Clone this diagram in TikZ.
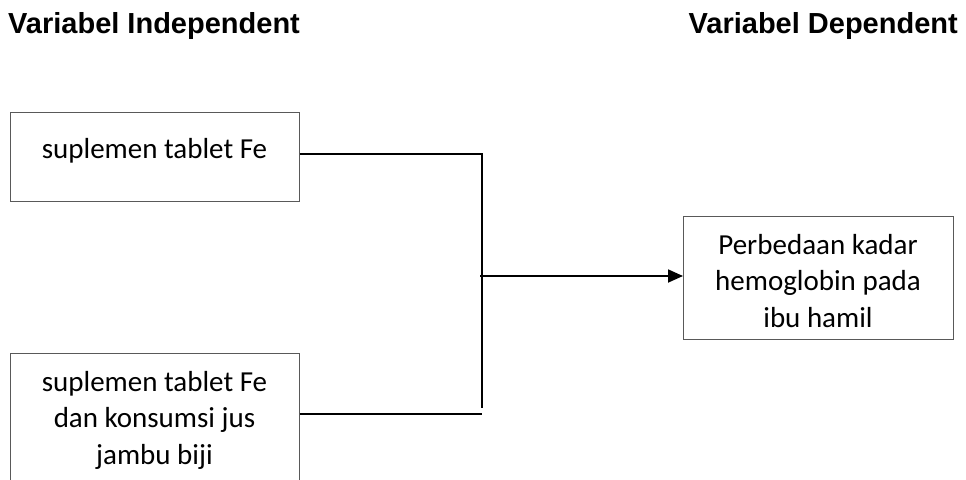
\documentclass[tikz,border=0pt]{standalone}
\usepackage{fontspec}
\setmainfont{Carlito}
\newfontfamily\headfont{Liberation Sans}
\usetikzlibrary{arrows.meta,calc}
\tikzset{
  varbox/.style={draw=black!65, line width=0.9pt, rectangle, inner sep=0pt},
  boxtext/.style={font=\fontsize{29}{36.5}\selectfont, align=center, inner sep=0pt},
  heading/.style={font=\headfont\bfseries\fontsize{29}{33}\selectfont, inner sep=0pt},
  link/.style={draw=black, line width=1.8pt},
  flow/.style={link, -{Triangle[length=15pt,width=13pt]}}
}
\begin{document}
\begin{tikzpicture}[x=1pt,y=-1pt]
  \useasboundingbox (0,0) rectangle (966,479);
  \clip (0,0) rectangle (966,479);

  % headings
  \node[heading, anchor=base west] (hind) at (8,33) {Variabel Independent};
  \node[heading, anchor=base east] (hdep) at (958,33) {Variabel Dependent};

  % independent variables (multi-line labels sit on their last baseline)
  \node[varbox, minimum width=289pt, minimum height=89pt, anchor=north west] (b1) at (10,112) {};
  \node[boxtext, anchor=base] (t1) at (154.5,158) {suplemen tablet Fe};

  \node[varbox, minimum width=289pt, minimum height=160pt, anchor=north west] (b2) at (10,353) {};
  \node[boxtext, anchor=base] (t2) at (154.5,464) {suplemen tablet Fe\\dan konsumsi jus\\jambu biji};

  % dependent variable
  \node[varbox, minimum width=270pt, minimum height=123pt, anchor=north west] (b3) at (683,216) {};
  \node[boxtext, anchor=base] (t3) at (818,327) {Perbedaan kadar\\hemoglobin pada\\ibu hamil};

  % connectors
  \coordinate (jt) at (482,154);
  \coordinate (jb) at (482,408);
  \coordinate (jm) at (480,276);
  \draw[link] (b1.east |- jt) -- (jt) -- (jb);
  \draw[link] (b2.east |- 0,414) -- (482,414);
  \draw[flow] (jm) -- (b3.west |- jm);
\end{tikzpicture}
\end{document}
